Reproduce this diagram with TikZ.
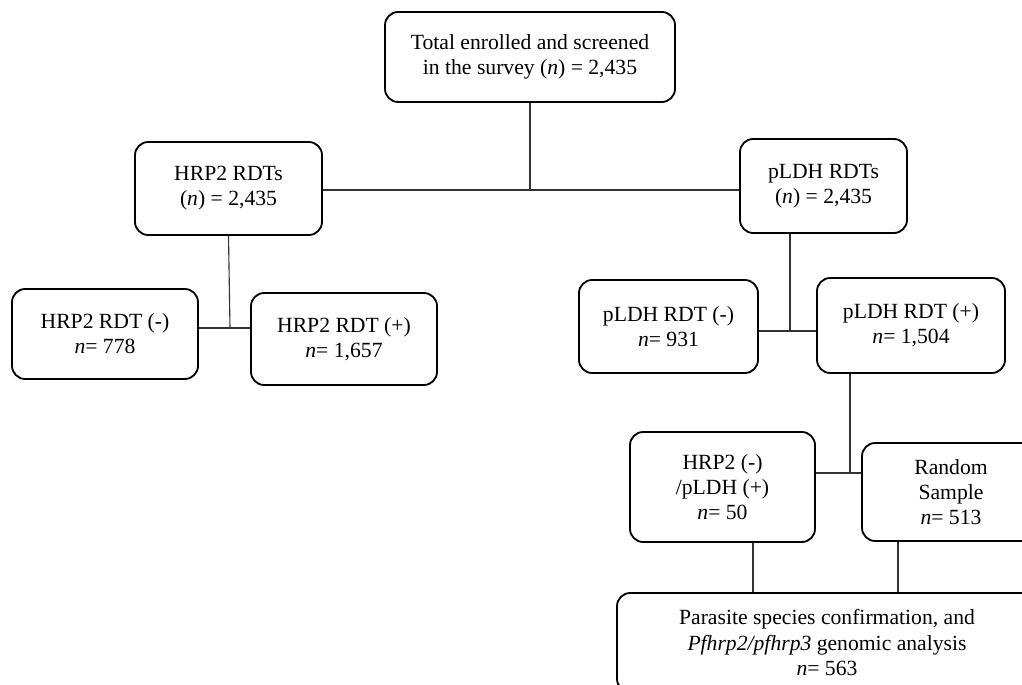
\documentclass[tikz,border=0pt]{standalone}
\usepackage{fontspec}
\setmainfont{Liberation Serif}
\usetikzlibrary{positioning}

\begin{document}
\begin{tikzpicture}[
    box/.style={draw=black, line width=1.3pt, rounded corners=0.33cm, align=center, inner sep=0pt,
      font=\fontsize{15.4}{17.8}\selectfont},
    link/.style={draw=black!80, line width=0.8pt}
  ]
    \useasboundingbox (0,0) rectangle (25.55,-17.125);
    \node[box, minimum width=7.25cm, minimum height=2.25cm] (top) at (13.25,-1.425)
      {Total enrolled and screened\\in the survey (\textit{n}) = 2,435};
    \node[box, minimum width=4.675cm, minimum height=2.325cm] (hrp) at (5.7125,-4.7125)
      {HRP2 RDTs\\(\textit{n}) = 2,435};
    \node[box, minimum width=4.175cm, minimum height=2.35cm] (pldh) at (20.5875,-4.65)
      {pLDH RDTs\\(\textit{n}) = 2,435};
    \node[box, minimum width=4.65cm, minimum height=2.25cm] (hrpneg) at (2.625,-8.35)
      {HRP2 RDT (-)\\\textit{n}= 778};
    \node[box, minimum width=4.65cm, minimum height=2.3cm] (hrppos) at (8.6,-8.475)
      {HRP2 RDT (+)\\\textit{n}= 1,657};
    \node[box, minimum width=4.475cm, minimum height=2.325cm] (pldhneg) at (16.7125,-8.1625)
      {pLDH RDT (-)\\\textit{n}= 931};
    \node[box, minimum width=4.7cm, minimum height=2.375cm] (pldhpos) at (22.775,-8.1375)
      {pLDH RDT (+)\\\textit{n}= 1,504};
    \node[box, minimum width=4.625cm, minimum height=2.75cm] (dual) at (18.0625,-12.175)
      {HRP2 (-)\\/pLDH (+)\\\textit{n}= 50};
    \node[box, minimum width=4.45cm, minimum height=2.45cm] (rand) at (23.775,-12.3)
      {Random\\Sample\\\textit{n}= 513};
    \node[box, minimum width=10.5cm, minimum height=2.475cm] (pars) at (20.675,-16.0625)
      {Parasite species confirmation, and\\\textit{Pfhrp2/pfhrp3} genomic analysis\\\textit{n}= 563};

    % junctions
    \coordinate (j1) at (13.25,-4.75);
    \coordinate (j2) at (5.75,-8.2);
    \coordinate (j3) at (19.75,-8.275);
    \coordinate (j4) at (21.25,-11.825);

    \draw[link] (top.south) -- (j1);
    \draw[link] (hrp.east |- j1) -- (pldh.west |- j1);
    \draw[link] (hrp.south) -- (j2);
    \draw[link] (hrpneg.east |- j2) -- (hrppos.west |- j2);
    \draw[link] (j3 |- pldh.south) -- (j3);
    \draw[link] (pldhneg.east |- j3) -- (pldhpos.west |- j3);
    \draw[link] (j4 |- pldhpos.south) -- (j4);
    \draw[link] (dual.east |- j4) -- (rand.west |- j4);
    \draw[link] ([xshift=0.7625cm]dual.south) -- ([xshift=0.7625cm]dual.south |- pars.north);
    \draw[link] ([xshift=-1.325cm]rand.south) -- ([xshift=-1.325cm]rand.south |- pars.north);
  \end{tikzpicture}
\end{document}
